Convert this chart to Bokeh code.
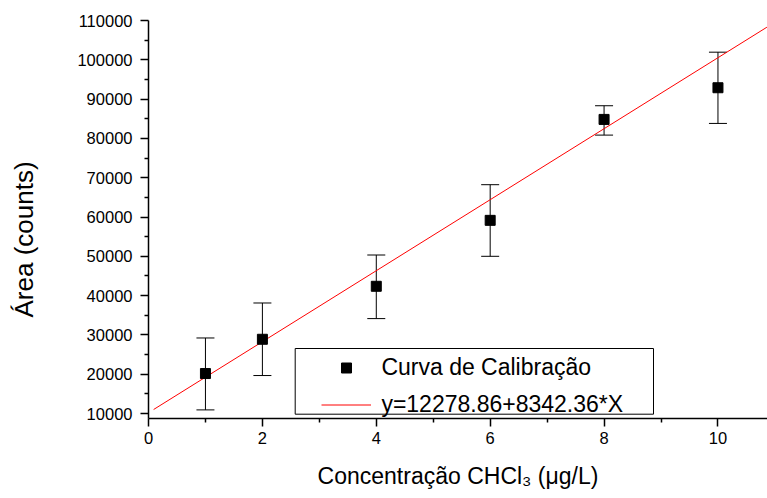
from bokeh.plotting import figure
from bokeh.models import (ColumnDataSource, Whisker, TeeHead, Legend, LegendItem,
                          FixedTicker, BoxAnnotation, Title, Range1d, NumeralTickFormatter)
from bokeh.embed import file_html
from bokeh.resources import INLINE

# ---- data ----
conc = [1, 2, 4, 6, 8, 10]
area = [20170, 28890, 42370, 59150, 84830, 92890]
area_lower = [10920, 19660, 34150, 50000, 80840, 83810]
area_upper = [29220, 38120, 50330, 68220, 88310, 101940]

fit_x = [0.09, 10.86]
fit_y = [11020, 108300]

x_ticks = [0, 2, 4, 6, 8, 10]
x_minor = [1, 3, 5, 7, 9]
y_ticks = [10000, 20000, 30000, 40000, 50000, 60000, 70000, 80000, 90000, 100000, 110000]
y_minor = [15000, 25000, 35000, 45000, 55000, 65000, 75000, 85000, 95000, 105000]

series_label = "Curva de Calibração"
fit_label = "y=12278.86+8342.36*X"
x_title = "Concentração CHCl₃ (μg/L)"
y_title = "Área (counts)"

FONT = "Liberation Sans"

p = figure(width=767, height=498,
           x_range=Range1d(0, 10.87), y_range=Range1d(8730, 110000),
           output_backend="svg", toolbar_location=None,
           min_border_left=148, min_border_right=0,
           min_border_top=20, min_border_bottom=80)
p.xgrid.visible = False
p.ygrid.visible = False
p.outline_line_color = None
p.background_fill_color = "white"
p.border_fill_color = "white"

for ax in (p.xaxis[0], p.yaxis[0]):
    ax.axis_line_width = 1.5
    ax.axis_line_color = "black"
    ax.major_tick_line_width = 1.5
    ax.minor_tick_line_width = 1.5
    ax.major_tick_line_color = "black"
    ax.minor_tick_line_color = "black"
    ax.major_tick_out = 8
    ax.major_tick_in = 0
    ax.minor_tick_out = 4
    ax.minor_tick_in = 0
    ax.major_label_text_font = FONT
    ax.major_label_text_font_size = "16.5px"
    ax.major_label_text_color = "black"

p.xaxis.ticker = FixedTicker(ticks=x_ticks, minor_ticks=x_minor)
p.yaxis.ticker = FixedTicker(ticks=y_ticks, minor_ticks=y_minor)
p.yaxis.formatter = NumeralTickFormatter(format="0")
p.xaxis.major_label_standoff = 5
p.yaxis.major_label_standoff = 8

p.xaxis.axis_label = x_title
p.xaxis.axis_label_text_font = FONT
p.xaxis.axis_label_text_font_size = "23px"
p.xaxis.axis_label_text_font_style = "normal"
p.xaxis.axis_label_text_color = "black"
p.xaxis.axis_label_standoff = 16

# blank axis label used only as spacing between tick labels and the title
p.yaxis.axis_label = " "
p.yaxis.axis_label_text_font_size = "10px"
p.yaxis.axis_label_standoff = 17

ytitle = Title(text=y_title, align="left", offset=101, standoff=10, text_font=FONT,
               text_font_size="26px", text_font_style="normal", text_color="black")
p.add_layout(ytitle, "left")

# fit line
ln = p.line(fit_x, fit_y, line_color="red", line_width=1)

# error bars
src = ColumnDataSource(dict(x=conc, lower=area_lower, upper=area_upper))
wh = Whisker(base="x", lower="lower", upper="upper", source=src,
             line_color="black", line_width=1,
             upper_head=TeeHead(size=18, line_color="black", line_width=1),
             lower_head=TeeHead(size=18, line_color="black", line_width=1))
p.add_layout(wh)

sq = p.scatter(conc, area, marker="square", size=10, fill_color="black", line_color="black")

# legend frame
box = BoxAnnotation(left=146.7, right=505, top=70, bottom=4.3,
                    left_units="screen", right_units="screen",
                    top_units="screen", bottom_units="screen",
                    fill_color="white", fill_alpha=1.0,
                    line_color="black", line_width=1, line_alpha=1.0)
p.add_layout(box)

legend = Legend(items=[LegendItem(label=series_label, renderers=[sq]),
                       LegendItem(label=fit_label, renderers=[ln])],
                location=(173.4, 0.5), glyph_width=50, glyph_height=25,
                label_height=25, label_standoff=10, spacing=10, padding=0,
                border_line_color=None, background_fill_alpha=0,
                label_text_font=FONT, label_text_font_size="23px",
                label_text_color="black")
p.add_layout(legend)

open("out.html", "w").write(file_html(p, INLINE))
